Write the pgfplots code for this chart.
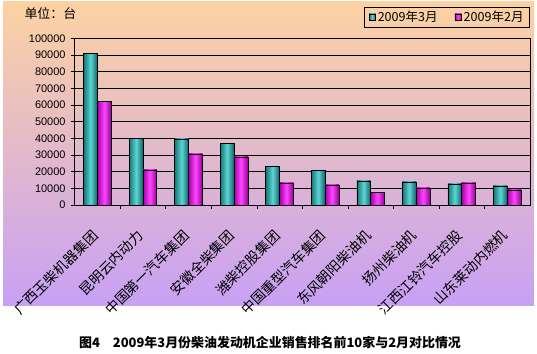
\documentclass[border=0pt]{standalone}
\usepackage{fontspec}
\setmainfont{Liberation Sans}
\newfontfamily\cjk{Noto Sans CJK SC}
\usepackage{pgfplots}
\pgfplotsset{compat=1.18}
\definecolor{peach}{RGB}{252,210,162}
\definecolor{lav}{RGB}{200,160,245}
\definecolor{tealL}{RGB}{20,120,120}
\definecolor{tealM}{RGB}{95,212,212}
\definecolor{tealR}{RGB}{10,100,100}
\definecolor{magL}{RGB}{170,0,170}
\definecolor{magM}{RGB}{255,70,255}
\definecolor{magR}{RGB}{150,0,150}
\pgfplotsset{
  tb/.style={ybar, bar shift=-6.9bp, bar width=13.8bp, draw=black, line width=0.6pt, left color=tealL, right color=tealR, middle color=tealM},
  mb/.style={ybar, bar shift=6.9bp, bar width=13.8bp, draw=black, line width=0.6pt, left color=magL, right color=magR, middle color=magM},
}
\begin{document}
\begin{tikzpicture}
\path[use as bounding box] (0,0) rectangle (537bp,354bp);
\fill[white] (0,0) rectangle (537bp,354bp);
\shade[top color=peach, bottom color=lav] (3bp,48bp) rectangle (534bp,352bp);
\node[anchor=west, font=\cjk\fontsize{13}{13}\selectfont] at (21bp,340bp) {单位：台};
\begin{axis}[
  at={(74.7bp,149bp)}, anchor=south west,
  width=455.3bp, height=166.7bp, scale only axis,
  xmin=-0.5, xmax=9.5, ymin=0, ymax=100000,
  scaled y ticks=false,
  axis line style={black, line width=0.8pt},
  ymajorgrids, grid style={black, line width=0.6pt},
  ytick={0,10000,...,100000},
  yticklabels={0,10000,20000,30000,40000,50000,60000,70000,80000,90000,100000},
  yticklabel style={font=\fontsize{11}{11}\selectfont, inner sep=1pt, xshift=-4bp},
  ytick pos=left, tick align=outside, major tick length=4bp,
  tick style={black, line width=0.6pt},
  xtick={0,...,9},
  xticklabels={广西玉柴机器集团,昆明云内动力,中国第一汽车集团,安徽全柴集团,潍柴控股集团,中国重型汽车集团,东风朝阳柴油机,扬州柴油机,江西江铃汽车控股,山东莱动内燃机},
  xtick style={draw=none},
  xticklabel style={font=\cjk\fontsize{14}{14}\selectfont, xshift=-2bp, yshift=-24bp, rotate=45, anchor=east, inner sep=0pt},
  extra x ticks={0.5,1.5,...,8.5},
  extra x tick labels={},
  extra x tick style={xtick style={draw=black, line width=0.6pt}, major tick length=4bp, grid=none},
  xtick pos=bottom,
  legend columns=2,
  legend style={at={(1.0,1.188)}, anchor=north east, draw=black, line width=0.8pt, fill=none,
    font=\cjk\fontsize{12.6}{12.6}\selectfont, inner xsep=4pt, inner ysep=2pt,
    /tikz/every even column/.append style={column sep=15bp}},
  legend image code/.code={\draw[#1, line width=0.5pt] (0bp,-3bp) rectangle (6.5bp,3.5bp);},
  clip=false
]
\addplot[tb] coordinates {(0,90800)};
\addplot[mb] coordinates {(0,62200)};
\legend{2009年3月,2009年2月}
\addplot[tb, forget plot] coordinates {(1,40100)};
\addplot[tb, forget plot] coordinates {(2,39700)};
\addplot[tb, forget plot] coordinates {(3,37100)};
\addplot[tb, forget plot] coordinates {(4,23300)};
\addplot[tb, forget plot] coordinates {(5,20900)};
\addplot[tb, forget plot] coordinates {(6,14500)};
\addplot[tb, forget plot] coordinates {(7,13800)};
\addplot[tb, forget plot] coordinates {(8,12600)};
\addplot[tb, forget plot] coordinates {(9,11400)};
\addplot[mb, forget plot] coordinates {(1,21100)};
\addplot[mb, forget plot] coordinates {(2,30700)};
\addplot[mb, forget plot] coordinates {(3,28900)};
\addplot[mb, forget plot] coordinates {(4,13300)};
\addplot[mb, forget plot] coordinates {(5,12000)};
\addplot[mb, forget plot] coordinates {(6,7400)};
\addplot[mb, forget plot] coordinates {(7,10200)};
\addplot[mb, forget plot] coordinates {(8,13200)};
\addplot[mb, forget plot] coordinates {(9,9000)};
\end{axis}
\node[font=\cjk\bfseries\fontsize{13}{13}\selectfont] at (270bp,11bp) {图4\quad 2009年3月份柴油发动机企业销售排名前10家与2月对比情况};
\end{tikzpicture}
\end{document}
